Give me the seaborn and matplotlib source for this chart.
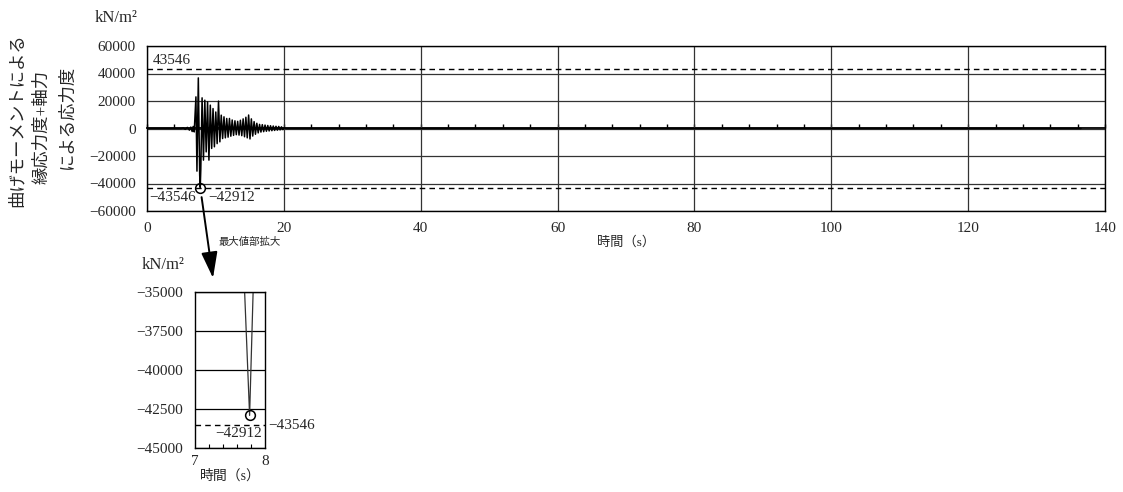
import matplotlib.pyplot as plt
import seaborn as sns
import numpy as np

# time history (s, kN/m2)
time_s = [0.0, 5.0, 5.3, 5.6, 5.9, 6.2, 6.4, 6.6, 6.75, 6.9,
          7.15, 7.3, 7.5, 7.7, 7.78, 7.86, 8.05, 8.25, 8.45, 8.65,
          8.85, 9.05, 9.25, 9.45, 9.65, 9.85, 10.05, 10.25, 10.45, 10.65,
          10.85, 11.05, 11.25, 11.45, 11.65, 11.85, 12.05, 12.25, 12.45, 12.65,
          12.85, 13.05, 13.25, 13.45, 13.65, 13.85, 14.05, 14.25, 14.45, 14.65,
          14.85, 15.05, 15.25, 15.45, 15.65, 15.85, 16.05, 16.25, 16.45, 16.65,
          16.85, 17.05, 17.25, 17.45, 17.65, 17.85, 18.05, 18.25, 18.45, 18.65,
          18.85, 19.05, 19.25, 19.45, 19.65, 19.85, 20.05, 20.3, 136.5]
stress = [0, 0, 400, -600, 800, -1200, 1000, -2200, 1500, -2500,
          23000, -31000, 36800, -34000, -42912, -30300, 22300, -23000, 20600, -17000,
          19400, -23000, 17000, -14500, 14500, -13300, 12000, -11000, 19900, -9700,
          9700, -7300, 8500, -6800, 7300, -6300, 7300, -5600, 6200, -5000,
          5600, -4500, 5200, -4800, 6000, -5200, 7000, -6000, 8200, -6800,
          9800, -7600, 7000, -5500, 5000, -4200, 3800, -3200, 3000, -2600,
          2800, -2300, 2500, -2000, 2200, -1800, 2000, -1600, 1800, -1400,
          1600, -1200, 1500, -1000, 1200, -800, 600, 0, 0]

limit = 43546
min_time = 7.78
min_value = -42912

main_xticks = [0, 20, 40, 60, 80, 100, 120, 140]
main_yticks = [-60000, -40000, -20000, 0, 20000, 40000, 60000]
zoom_xticks = [7, 8]
zoom_yticks = [-45000, -42500, -40000, -37500, -35000]

sns.set_style('white')
plt.rcParams['font.family'] = ['Liberation Serif', 'Noto Sans CJK JP']
plt.rcParams['axes.unicode_minus'] = True

W, H = 1123, 492
fig = plt.figure(figsize=(W / 100, H / 100), dpi=100)
ax = fig.add_axes([147 / W, 1 - 211 / H, 958 / W, 165 / H])
axz = fig.add_axes([195 / W, 1 - 448 / H, 70 / W, 156 / H])

# main chart
sns.lineplot(x=time_s, y=stress, ax=ax, color='black', lw=1.1, estimator=None, sort=False)
ax.set_xlim(0, 140)
ax.set_ylim(-60000, 60000)
ax.set_xticks(main_xticks)
ax.set_yticks(main_yticks)
ax.grid(True, color='#333333', lw=0.9)
ax.tick_params(length=0, labelsize=11, pad=8)
for s in ax.spines.values():
    s.set_color('black')
    s.set_linewidth(1)
ax.set_xlabel('時間（s）', fontsize=9.5, labelpad=1)

# axis line at zero with small ticks
zero_ax = ax.secondary_xaxis(0.5)
zero_ax.set_xticks(np.arange(0, 141, 4))
zero_ax.tick_params(direction='out', length=3, width=1, color='black',
                    labeltop=False, labelbottom=False)
for s in zero_ax.spines.values():
    s.set_linewidth(1.3)
    s.set_color('black')

for v in (limit, -limit):
    ax.axhline(v, ls=(0, (4, 3)), color='black', lw=1)
ax.plot(min_time, min_value, 'o', mfc='none', mec='black', ms=7, mew=1.1)
ax.text(0.8, 49500, f'{limit}', fontsize=11, va='center', ha='left')
ax.text(0.4, -50500, f'\u2212{limit}', fontsize=11, va='center', ha='left')
ax.text(8.9, -50500, f'\u2212{abs(min_value)}', fontsize=11, va='center', ha='left')

fig.text(116 / W, 1 - 18 / H, 'kN/m²', fontsize=12, ha='center', va='center')
ylab = [('曲げモーメントによる', 17, 33), ('縁応力度+軸力', 42, 70), ('による応力度', 67, 65)]
for txt, px, py in ylab:
    fig.text(px / W, 1 - py / H, txt, rotation=90, fontsize=12.5, ha='center', va='top')

fig.text(250 / W, 1 - 242 / H, '最大値部拡大', fontsize=7.5, ha='center', va='center')

ax.annotate('', xy=(213 / W, 1 - 278 / H), xycoords='figure fraction',
            xytext=(min_time, min_value), textcoords='data',
            arrowprops=dict(arrowstyle='-|>,head_length=0.8,head_width=0.25',
                            color='black', lw=1.4, shrinkA=7, shrinkB=0,
                            mutation_scale=20),
            annotation_clip=False)

# enlarged view
sns.lineplot(x=time_s, y=stress, ax=axz, color='#333333', lw=0.9, estimator=None, sort=False)
axz.set_xlim(7, 8)
axz.set_ylim(-45000, -35000)
axz.set_xticks(zoom_xticks)
axz.set_xticks(np.arange(7.2, 8.0, 0.2), minor=True)
axz.set_yticks(zoom_yticks)
axz.grid(True, axis='y', color='black', lw=0.9)
axz.tick_params(which='major', length=0, labelsize=11, pad=8.5)
axz.tick_params(axis='x', which='minor', direction='in', length=3, width=0.8,
                bottom=True, color='black')
axz.tick_params(axis='x', which='major', pad=5)
for s in axz.spines.values():
    s.set_color('black')
    s.set_linewidth(1)
axz.axhline(-limit, ls=(0, (4, 3)), color='black', lw=1)
axz.plot(min_time, min_value, 'o', mfc='none', mec='black', ms=7, mew=1.1)
axz.text(8.04, -limit, f'\u2212{limit}', fontsize=11, va='center', ha='left', clip_on=False)
axz.text(7.96, -44050, f'\u2212{abs(min_value)}', fontsize=11, va='center', ha='right')
axz.set_xlabel('時間（s）', fontsize=10, labelpad=1)
fig.text(163 / W, 1 - 265 / H, 'kN/m²', fontsize=12, ha='center', va='center')

fig.savefig('out.png', dpi=100)
